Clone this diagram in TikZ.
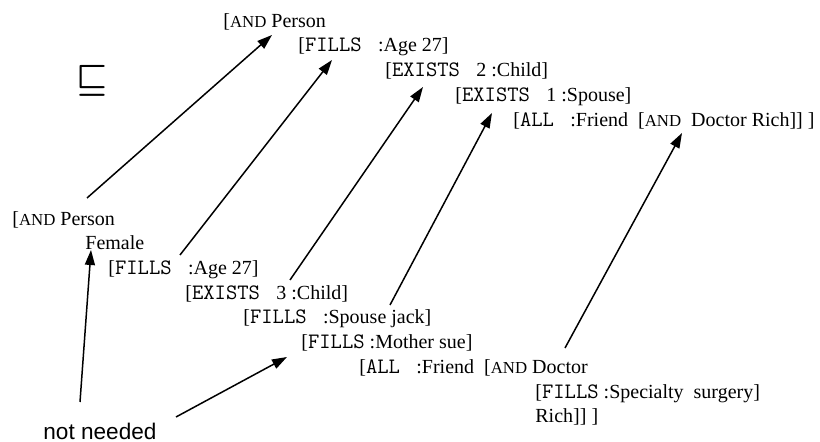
\documentclass[tikz,border=0pt]{standalone}
\usepackage{fontspec}
\setmainfont{Liberation Serif}
\setsansfont{Liberation Sans}
\usetikzlibrary{arrows.meta}
\newcommand{\kand}{{\fontsize{8.4}{9}\selectfont AND}}
\newcommand{\kw}[1]{{\fontsize{11}{12}\ttfamily #1}}

\begin{document}
\begin{tikzpicture}[x=0.5pt,y=-0.5pt,
    txt/.style={anchor=base west,inner sep=0pt,font=\fontsize{10}{12}\selectfont},
    arr/.style={-{Triangle[length=7.5pt,width=5pt]},line width=0.75pt}]
\useasboundingbox (0,0) rectangle (820,442);

% subsumes
\node[inner sep=0pt,font=\fontsize{16}{16}\selectfont\boldmath] (sub) at (92,81) {$\sqsubseteq$};

% the shorter concept
\node[txt] (T1) at (223,28) {[\kand{} Person};
\node[txt] (T2) at (298,52) {[\kw{FILLS\ } :Age 27]};
\node[txt] (T3) at (385,77) {[\kw{EXISTS\ } 2 :Child]};
\node[txt] (T4) at (455,102) {[\kw{EXISTS\ } 1 :Spouse]};
\node[txt] (T5) at (513,127) {[\kw{ALL\ } :Friend \ [\kand\ \ Doctor Rich]] ]};

% the longer concept
\node[txt] (B1) at (12,226) {[\kand{} Person};
\node[txt] (B2) at (85,250) {Female};
\node[txt] (B3) at (108,275) {[\kw{FILLS\ } :Age 27]};
\node[txt] (B4) at (185,300) {[\kw{EXISTS\ } 3 :Child]};
\node[txt] (B5) at (243,324) {[\kw{FILLS\ } :Spouse jack]};
\node[txt] (B6) at (301,349) {[\kw{FILLS} :Mother sue]};
\node[txt] (B7) at (359,374) {[\kw{ALL\ } :Friend \ [\kand{} Doctor};
\node[txt] (B8) at (535,399) {[\kw{FILLS} :Specialty \ surgery]};
\node[txt] (B9) at (535,423) {Rich]] ]};

\node[txt,font=\sffamily\fontsize{11.3}{13}\selectfont] (nn) at (43,440) {not needed};

% arrow ends
\coordinate (t1) at (272,35);
\coordinate (t2) at (332,60);
\coordinate (t3) at (423,87);
\coordinate (t4) at (492,113);
\coordinate (t5) at (682,133);
\coordinate (b1) at (87,198);
\coordinate (b2) at (180,255);
\coordinate (b3) at (290,280);
\coordinate (b4) at (390,305);
\coordinate (b5) at (565,348);
\coordinate (f) at (91,250);
\coordinate (m) at (287,357);
\coordinate (n1) at (80,402);
\coordinate (n2) at (176,417);

\path [arr] (b1) edge (t1);
\path [arr] (b2) edge (t2);
\path [arr] (b3) edge (t3);
\path [arr] (b4) edge (t4);
\path [arr] (b5) edge (t5);
\path [arr] (n1) edge (f);
\path [arr] (n2) edge (m);
\end{tikzpicture}
\end{document}
